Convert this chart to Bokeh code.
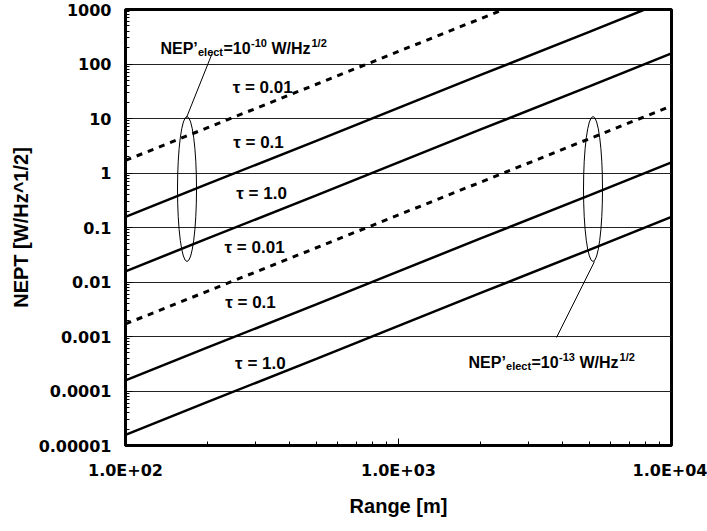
from bokeh.plotting import figure
from bokeh.models import FixedTicker, Label, Range1d
from bokeh.embed import file_html
from bokeh.resources import INLINE

# ---- data ----
range_m = [100, 200, 500, 1000, 2000, 5000, 10000]

# NEP'elect = 1e-10 W/Hz^1/2
nep10_tau001 = [1.7, 6.8, 42.5, 170, 680, 4250, 17000]
nep10_tau01 = [0.157, 0.63, 3.9, 15.7, 63, 390, 1570]
nep10_tau1 = [0.0157, 0.063, 0.39, 1.57, 6.3, 39, 157]

# NEP'elect = 1e-13 W/Hz^1/2
nep13_tau001 = [0.0017, 0.0068, 0.0425, 0.17, 0.68, 4.25, 17.0]
nep13_tau01 = [0.000157, 0.00063, 0.0039, 0.0157, 0.063, 0.39, 1.57]
nep13_tau1 = [0.0000157, 0.000063, 0.00039, 0.00157, 0.0063, 0.039, 0.157]

y_ticks = [1e-5, 1e-4, 1e-3, 1e-2, 1e-1, 1.0, 10.0, 100.0, 1000.0]
y_tick_labels = ["0.00001", "0.0001", "0.001", "0.01", "0.1", "1", "10", "100", "1000"]
x_ticks = [100.0, 1000.0, 10000.0]
x_tick_labels = ["1.0E+02", "1.0E+03", "1.0E+04"]
x_minor = [200, 300, 400, 500, 600, 700, 800, 900,
           2000, 3000, 4000, 5000, 6000, 7000, 8000, 9000]
y_minor = [m * d for d in [1e-5, 1e-4, 1e-3, 1e-2, 1e-1, 1, 10, 100] for m in range(2, 10)]

tau_labels = ["τ = 0.01", "τ = 0.1", "τ = 1.0", "τ = 0.01", "τ = 0.1", "τ = 1.0"]
tau_label_x = [318, 307, 315, 297, 287, 312]
tau_label_y = [37, 3.6, 0.42, 0.043, 0.0042, 0.00032]

FONT = "Liberation Sans"
BLACK = "#000000"

p = figure(width=707, height=531, x_axis_type="log", y_axis_type="log",
           x_range=Range1d(100, 10000), y_range=Range1d(1e-5, 1000),
           output_backend="svg", toolbar_location=None,
           min_border_left=125, min_border_right=36,
           min_border_top=9, min_border_bottom=86,
           background_fill_color="white", border_fill_color="white")

p.outline_line_color = BLACK
p.outline_line_width = 3
p.outline_line_alpha = 1.0

# axes
p.xaxis.ticker = FixedTicker(ticks=x_ticks, minor_ticks=x_minor)
p.yaxis.ticker = FixedTicker(ticks=y_ticks, minor_ticks=y_minor)
p.xaxis.major_label_overrides = {t: s for t, s in zip(x_ticks, x_tick_labels)}
p.yaxis.major_label_overrides = {t: s for t, s in zip(y_ticks, y_tick_labels)}

for ax in (p.xaxis, p.yaxis):
    ax.axis_line_color = BLACK
    ax.axis_line_width = 3
    ax.major_tick_in = 7
    ax.major_tick_out = 0
    ax.minor_tick_in = 4
    ax.minor_tick_out = 0
    ax.major_tick_line_color = BLACK
    ax.minor_tick_line_color = BLACK
    ax.major_tick_line_width = 1
    ax.minor_tick_line_width = 1
    ax.major_label_text_font = "DejaVu Sans"
    ax.major_label_text_font_style = "bold"
    ax.major_label_text_font_size = "16px"
    ax.major_label_text_color = BLACK
    ax.axis_label_text_font = FONT
    ax.axis_label_text_font_style = "bold"
    ax.axis_label_text_font_size = "20px"
    ax.axis_label_text_color = BLACK

p.xaxis.axis_label = "Range [m]"
p.yaxis.axis_label = "NEPT [W/Hz^1/2]"
p.xaxis.major_label_standoff = 15
p.yaxis.major_label_standoff = 14
p.xaxis.axis_label_standoff = 12
p.yaxis.axis_label_standoff = 4

p.xgrid.visible = False
p.ygrid.grid_line_color = "#222222"
p.ygrid.grid_line_width = 1

# series
p.line(range_m, nep10_tau001, line_color=BLACK, line_width=3, line_dash="6 6")
p.line(range_m, nep10_tau01, line_color=BLACK, line_width=2.5)
p.line(range_m, nep10_tau1, line_color=BLACK, line_width=2.5)
p.line(range_m, nep13_tau001, line_color=BLACK, line_width=3, line_dash="6 6")
p.line(range_m, nep13_tau01, line_color=BLACK, line_width=2.5)
p.line(range_m, nep13_tau1, line_color=BLACK, line_width=2.5)

# tau labels
for t, x, y in zip(tau_labels, tau_label_x, tau_label_y):
    p.add_layout(Label(x=x, y=y, text=t, text_font=FONT, text_font_style="bold",
                       text_font_size="17px", text_align="center",
                       text_baseline="middle", text_color=BLACK))

# grouping ellipses and leader lines
p.ellipse(x=[168, 5158], y=[0.508, 0.508], width=19, height=145,
          width_units="screen", height_units="screen",
          fill_color=None, line_color=BLACK, line_width=1)
p.segment(x0=[167.3, 5224], y0=[10.4, 0.0238], x1=[208.3, 3792], y1=[162.6, 0.00096],
          line_color=BLACK, line_width=1)

# NEP annotations composed of pieces (main, subscript, superscript)
def nep_label(ax, ay, exponent):
    pieces = [("NEP’", 0, 0, "16px"),
              ("elect", 37.5, -4, "11px"),
              ("=10", 63, 0, "16px"),
              (exponent, 90.5, 5, "11px"),
              ("W/Hz", 111, 0, "16px"),
              ("1/2", 151, 5, "11px")]
    for txt, dx, dy, size in pieces:
        p.add_layout(Label(x=ax, y=ay, x_offset=dx, y_offset=dy, text=txt,
                           text_font=FONT, text_font_style="bold",
                           text_font_size=size, text_align="left",
                           text_baseline="alphabetic", text_color=BLACK))

nep_label(134.3, 195, "-10")
nep_label(1805, 0.000337, "-13")

open("out.html", "w").write(file_html(p, INLINE))
